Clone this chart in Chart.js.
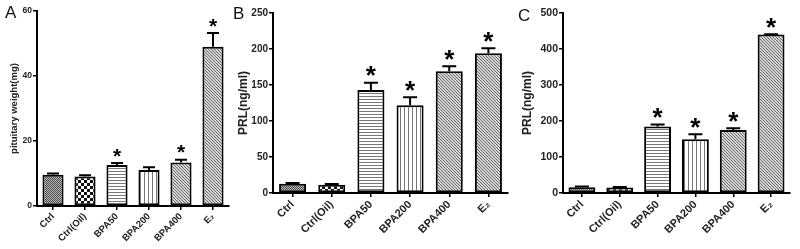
<!DOCTYPE html>
<html lang="en">
<head>
    <meta charset="UTF-8">
    <title>Pituitary weight and PRL</title>
    <script src="https://cdn.jsdelivr.net/npm/chart.js"></script>
    <style>
        body { margin: 0; background: #fff; }
        #wrap { position: relative; width: 800px; height: 249px; overflow: hidden; }
        #wrap canvas { position: absolute; top: 0; }
        .letter { position: absolute; font: 17px "Liberation Sans", Arial, sans-serif; color: #111; }
    </style>
</head>
<body>
    <div id="wrap">
        <canvas id="chartA" width="240" height="249" style="left:0"></canvas>
        <canvas id="chartB" width="288" height="249" style="left:232px"></canvas>
        <canvas id="chartC" width="280" height="249" style="left:520px"></canvas>
        <div class="letter" style="left:5px;top:3px">A</div>
        <div class="letter" style="left:233px;top:4px">B</div>
        <div class="letter" style="left:518px;top:6px">C</div>
    </div>

    <script>
        const categories = ['Ctrl', 'Ctrl(Oil)', 'BPA50', 'BPA200', 'BPA400', 'E₂'];

        // panel A: pituitary weight (mg)
        const weightMeans = [9.6, 9.1, 12.6, 11.1, 13.4, 49];
        const weightErrors = [0.4, 0.4, 0.6, 0.8, 0.8, 4.2];
        const weightStars = [false, false, true, false, true, true];
        const weightTicks = [0, 20, 40, 60];

        // panel B: PRL (ng/ml)
        const prlBMeans = [13, 11.5, 143, 122, 169, 194];
        const prlBErrors = [1, 1, 10, 11, 7, 7];
        const prlBStars = [false, false, true, true, true, true];
        const prlBTicks = [0, 50, 100, 150, 200, 250];

        // panel C: PRL (ng/ml)
        const prlCMeans = [16, 15, 185, 149, 175, 440];
        const prlCErrors = [2, 2, 5, 14, 5, 1];
        const prlCStars = [false, false, true, true, true, true];
        const prlCTicks = [0, 100, 200, 300, 400, 500];

        function makePattern(kind) {
            const c = document.createElement('canvas');
            const g = c.getContext('2d');
            if (kind === 'dense') {
                c.width = 2; c.height = 2;
                g.fillStyle = '#b8b8b8'; g.fillRect(0, 0, 2, 2);
                g.fillStyle = '#4a4a4a'; g.fillRect(0, 0, 1, 1); g.fillRect(1, 1, 1, 1);
            } else if (kind === 'checker') {
                c.width = 6; c.height = 6;
                g.fillStyle = '#fff'; g.fillRect(0, 0, 6, 6);
                g.fillStyle = '#111'; g.fillRect(0, 0, 3, 3); g.fillRect(3, 3, 3, 3);
            } else if (kind === 'horiz') {
                c.width = 4; c.height = 3;
                g.fillStyle = '#fff'; g.fillRect(0, 0, 4, 3);
                g.fillStyle = '#777'; g.fillRect(0, 0, 4, 1);
            } else if (kind === 'vert') {
                c.width = 4; c.height = 4;
                g.fillStyle = '#fff'; g.fillRect(0, 0, 4, 4);
                g.fillStyle = '#777'; g.fillRect(0, 0, 1, 4);
            } else {
                c.width = 3; c.height = 3;
                g.fillStyle = '#d8d8d8'; g.fillRect(0, 0, 3, 3);
                g.fillStyle = '#666';
                for (let i = 0; i < 3; i++) g.fillRect(i, i, 1, 1);
            }
            return g.createPattern(c, 'repeat');
        }

        const fills = ['dense', 'checker', 'horiz', 'vert', 'diag', 'diag'].map(makePattern);

        // error bars and significance stars, drawn from the y scale
        const errorBars = {
            id: 'errorBars',
            afterDatasetsDraw(chart, args, opts) {
                const ctx = chart.ctx;
                const y = chart.scales.y;
                const meta = chart.getDatasetMeta(0);
                ctx.save();
                ctx.strokeStyle = '#000';
                ctx.lineWidth = 2;
                meta.data.forEach((bar, i) => {
                    const top = y.getPixelForValue(opts.means[i] + opts.errors[i]);
                    ctx.beginPath();
                    ctx.moveTo(bar.x, bar.y);
                    ctx.lineTo(bar.x, top);
                    ctx.moveTo(bar.x - opts.cap, top);
                    ctx.lineTo(bar.x + opts.cap, top);
                    ctx.stroke();
                    if (opts.stars[i]) {
                        ctx.fillStyle = '#000';
                        ctx.font = 'bold ' + opts.starSize + 'px "Liberation Sans", Arial';
                        ctx.textAlign = 'center';
                        ctx.textBaseline = 'alphabetic';
                        ctx.fillText('*', bar.x, top + opts.starSize * 0.55 - opts.starGap);
                    }
                });
                ctx.restore();
            }
        };

        function makeChart(id, cfg) {
            const ctx = document.getElementById(id).getContext('2d');
            return new Chart(ctx, {
                type: 'bar',
                data: {
                    labels: categories,
                    datasets: [{
                        data: cfg.means,
                        backgroundColor: fills,
                        borderColor: '#000',
                        borderWidth: 2,
                        borderSkipped: false,
                        barPercentage: cfg.barPct,
                        categoryPercentage: 1
                    }]
                },
                options: {
                    responsive: false,
                    animation: false,
                    events: [],
                    layout: { padding: cfg.padding },
                    plugins: {
                        legend: { display: false },
                        tooltip: { enabled: false },
                        errorBars: { means: cfg.means, errors: cfg.errors, stars: cfg.stars, cap: cfg.cap, starSize: cfg.starSize, starGap: cfg.starGap }
                    },
                    scales: {
                        x: {
                            grid: { offset: false, drawOnChartArea: false, tickLength: 4, color: '#000', lineWidth: 1.5 },
                            border: { display: true, color: '#000', width: 2 },
                            ticks: {
                                minRotation: 45, maxRotation: 45, padding: 1,
                                color: '#222',
                                font: { family: '"Liberation Sans", Arial', size: cfg.xFont, weight: 'bold' }
                            },
                            afterFit: s => { s.height = cfg.xHeight; }
                        },
                        y: {
                            min: 0,
                            max: cfg.ticks[cfg.ticks.length - 1],
                            afterBuildTicks: s => { s.ticks = cfg.ticks.map(v => ({ value: v })); },
                            grid: { drawOnChartArea: false, tickLength: 4, color: '#000', lineWidth: 1.5 },
                            border: { display: true, color: '#000', width: 2 },
                            ticks: {
                                padding: 1,
                                color: '#222',
                                font: { family: '"Liberation Sans", Arial', size: cfg.yFont, weight: 'bold' }
                            },
                            title: {
                                display: true,
                                text: cfg.title,
                                color: '#222',
                                padding: { top: cfg.titlePad, bottom: 0 },
                                font: { family: '"Liberation Sans", Arial', size: cfg.titleFont, weight: 'bold' }
                            },
                            afterFit: s => { s.width = cfg.yWidth; }
                        }
                    }
                },
                plugins: [errorBars]
            });
        }

        makeChart('chartA', {
            means: weightMeans, errors: weightErrors, stars: weightStars, ticks: weightTicks,
            title: 'pituitary weight(mg)', titleFont: 9.5, titlePad: 9,
            yFont: 8.5, xFont: 9.5, yWidth: 37, xHeight: 43,
            padding: { left: 0, right: 11, top: 11, bottom: 0 },
            barPct: 0.66, cap: 6, starSize: 21, starGap: 12
        });

        makeChart('chartB', {
            means: prlBMeans, errors: prlBErrors, stars: prlBStars, ticks: prlBTicks,
            title: 'PRL(ng/ml)', titleFont: 12, titlePad: 4,
            yFont: 10, xFont: 11, yWidth: 41, xHeight: 56,
            padding: { left: 0, right: 12, top: 13, bottom: 0 },
            barPct: 0.69, cap: 7, starSize: 26, starGap: 13
        });

        makeChart('chartC', {
            means: prlCMeans, errors: prlCErrors, stars: prlCStars, ticks: prlCTicks,
            title: 'PRL(ng/ml)', titleFont: 12, titlePad: 0,
            yFont: 10.5, xFont: 11, yWidth: 43, xHeight: 56,
            padding: { left: 0, right: 10, top: 13, bottom: 0 },
            barPct: 0.71, cap: 7, starSize: 26, starGap: 13
        });
    </script>
</body>
</html>
